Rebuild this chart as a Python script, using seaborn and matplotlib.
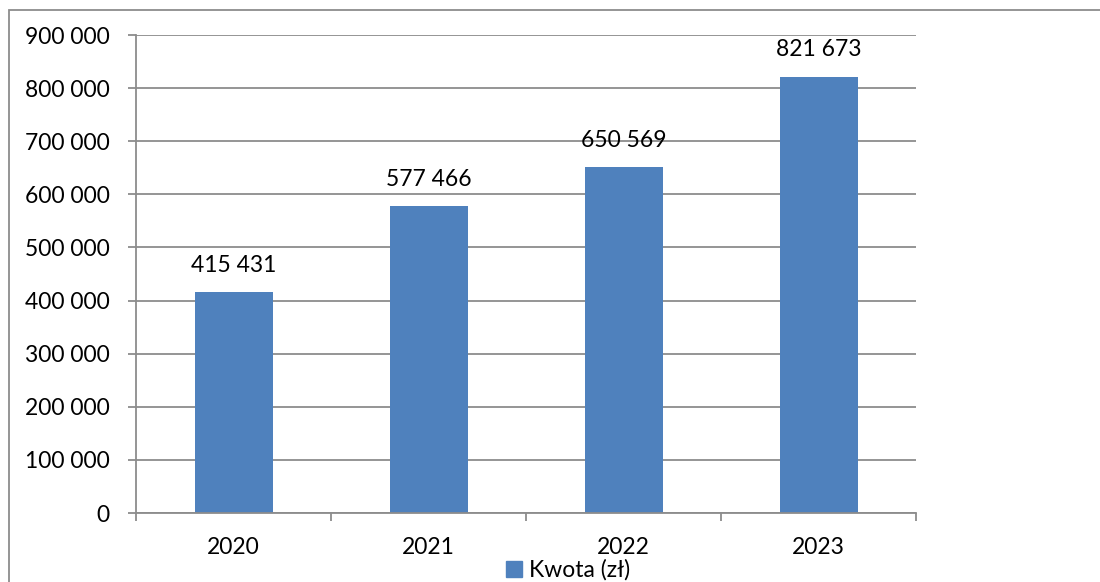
import matplotlib
matplotlib.use("Agg")
from matplotlib import pyplot as plt
from matplotlib.patches import Rectangle
from matplotlib.ticker import FuncFormatter
import seaborn as sns
import pandas as pd

# Data
years = ["2020", "2021", "2022", "2023"]
amounts = [415431, 577466, 650569, 821673]
series_name = "Kwota (zł)"

df = pd.DataFrame({"Rok": years, "Kwota": amounts})

sns.set_style("white", {"xtick.bottom": True, "ytick.left": True})
plt.rcParams["font.family"] = ["Lato", "DejaVu Sans"]
plt.rcParams["text.color"] = "black"
plt.rcParams["xtick.color"] = "black"
plt.rcParams["ytick.color"] = "black"

bar_color = "#4F81BD"
grid_color = "#8C8C8C"
fs = 16.5

fig = plt.figure(figsize=(11, 5.82), dpi=100)
ax = fig.add_axes([136 / 1100, 1 - 513 / 582, 780 / 1100, 478 / 582])

sns.barplot(data=df, x="Rok", y="Kwota", color=bar_color, width=0.4,
            saturation=1, linewidth=0, ax=ax)

ax.set_ylim(0, 900000)
ax.set_xlim(-0.5, 3.5)
ax.set_yticks(range(0, 900001, 100000))
ax.yaxis.set_major_formatter(FuncFormatter(lambda v, p: f"{int(v):,}".replace(",", " ")))
ax.grid(axis="y", color=grid_color, linewidth=1.3)
ax.set_axisbelow(True)
ax.set_xlabel("")
ax.set_ylabel("")

for s in ["top", "right"]:
    ax.spines[s].set_visible(False)
for s in ["left", "bottom"]:
    ax.spines[s].set_color(grid_color)
    ax.spines[s].set_linewidth(1.3)

# x ticks at category boundaries
ax.set_xticks([-0.5, 0.5, 1.5, 2.5, 3.5], minor=False)
ax.set_xticklabels([])
ax.set_xticks(range(len(years)), minor=True)
ax.set_xticklabels(years, minor=True)
ax.tick_params(axis="x", which="major", direction="out", length=6, color=grid_color, width=1.3)
ax.tick_params(axis="x", which="minor", bottom=False, length=0, pad=17, labelsize=fs)
ax.tick_params(axis="y", direction="out", length=6, color=grid_color, width=1.3,
               pad=13, labelsize=fs)

for i, v in enumerate(amounts):
    ax.annotate(f"{v:,}".replace(",", " "), (i, v), xytext=(0, 12),
                textcoords="offset points", ha="center", va="bottom", fontsize=fs)

# legend
handle = Rectangle((0, 0), 1, 1, color=bar_color)
fig.legend([handle], [series_name], loc="center", bbox_to_anchor=(568 / 1100, 1 - 570 / 582),
           frameon=False, fontsize=fs, handlelength=0.7, handleheight=0.7,
           handletextpad=0.3, borderpad=0)

# chart border
fig.patches.append(Rectangle((9 / 1100, -0.1), 1.2, 1 - 10 / 582 + 0.1,
                             transform=fig.transFigure, fill=False,
                             edgecolor="#8C8C8C", linewidth=1.3))

fig.savefig("out.png", dpi=100)
